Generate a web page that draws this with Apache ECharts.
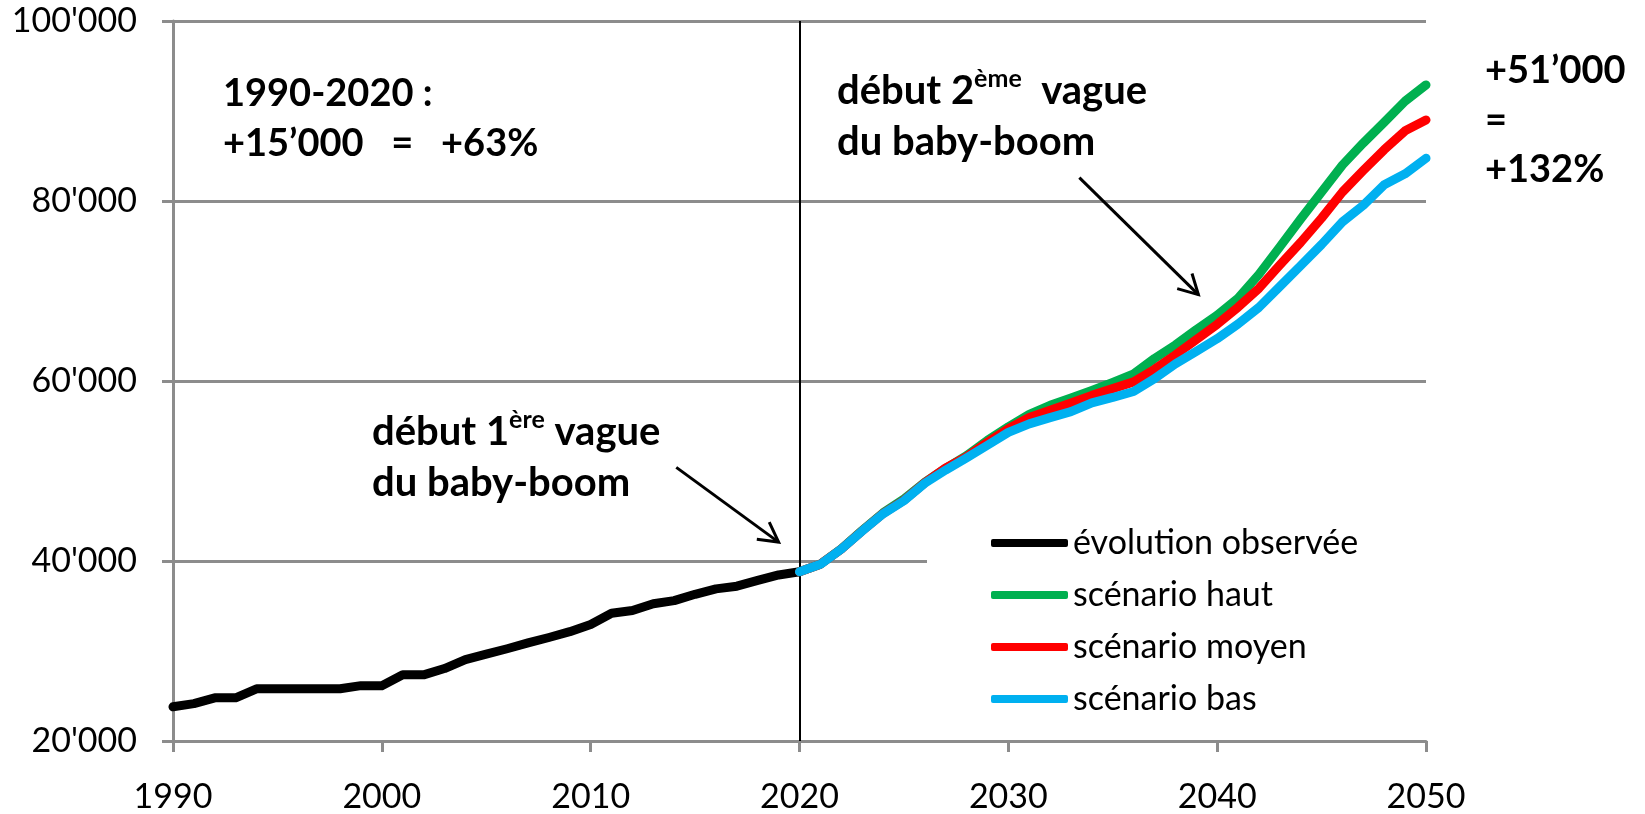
<!DOCTYPE html>
<html>
<head>
<meta charset="utf-8">
<script src="https://cdn.jsdelivr.net/npm/echarts@6/dist/echarts.min.js"></script>
<style>
  html, body { margin: 0; padding: 0; background: #fff; }
  #chart { width: 1645px; height: 814px; }
</style>
</head>
<body>
<div id="chart"></div>
<script>
// observed 1990-2020
const obsYears = [1990, 1991, 1992, 1993, 1994, 1995, 1996, 1997, 1998, 1999, 2000,
  2001, 2002, 2003, 2004, 2005, 2006, 2007, 2008, 2009, 2010,
  2011, 2012, 2013, 2014, 2015, 2016, 2017, 2018, 2019, 2020];
const obsValues = [23800, 24150, 24800, 24800, 25800, 25800, 25800, 25800, 25800, 26150, 26150,
  27350, 27350, 28050, 29050, 29650, 30250, 30900, 31500, 32150, 32950,
  34200, 34500, 35250, 35600, 36300, 36900, 37200, 37850, 38450, 38800];

// scenarios 2020-2050
const scenYears = [2020, 2021, 2022, 2023, 2024, 2025, 2026, 2027, 2028, 2029, 2030,
  2031, 2032, 2033, 2034, 2035, 2036, 2037, 2038, 2039, 2040,
  2041, 2042, 2043, 2044, 2045, 2046, 2047, 2048, 2049, 2050];
const haut = [38800, 39650, 41350, 43400, 45350, 46900, 48750, 50300, 51700, 53400, 54900,
  56300, 57300, 58100, 58950, 59850, 60800, 62500, 64000, 65700, 67300,
  69200, 71850, 74900, 78000, 81000, 84000, 86450, 88750, 91100, 92900];
const moyen = [38800, 39650, 41330, 43350, 45280, 46750, 48700, 50350, 51600, 53200, 54700,
  55950, 56750, 57550, 58400, 59150, 59900, 61300, 62900, 64600, 66300,
  68200, 70300, 72900, 75400, 78100, 81000, 83400, 85700, 87800, 89000];
const bas = [38800, 39630, 41320, 43330, 45240, 46700, 48640, 50110, 51470, 52860, 54290,
  55240, 55930, 56590, 57580, 58170, 58830, 60260, 61900, 63300, 64700,
  66330, 68180, 70500, 72820, 75170, 77680, 79520, 81800, 83020, 84750];

const seriesNames = ['évolution observée', 'scénario haut', 'scénario moyen', 'scénario bas'];
const seriesColors = ['#000000', '#00B050', '#FF0000', '#00B0F0'];

// arrows in data coordinates [year, value]
const arrows = [
  [[2014.1, 50400], [2019.0, 42100]],
  [[2033.4, 82600], [2039.1, 69600]]
];

const FONT = 'Lato, "Open Sans", sans-serif';
const GRID_GREY = '#8c8c8c';

function pairs(xs, ys) {
  return xs.map((x, i) => [x, ys[i]]);
}

const chart = echarts.init(document.getElementById('chart'));

function lineSeries(i, data) {
  return {
    name: seriesNames[i],
    type: 'line',
    data: data,
    symbol: 'none',
    itemStyle: { color: seriesColors[i] },
    lineStyle: { color: seriesColors[i], width: 9, cap: 'round', join: 'round' },
    z: 2 + i
  };
}

const obsSeries = lineSeries(0, pairs(obsYears, obsValues));
obsSeries.markLine = {
  silent: true,
  symbol: ['none', 'none'],
  label: { show: false },
  lineStyle: { color: '#000', width: 2, type: 'solid' },
  data: [{ xAxis: 2020 }]
};

chart.setOption({
  animation: false,
  backgroundColor: '#fff',
  grid: { left: 173, right: 219, top: 21, bottom: 71 },
  legend: {
    orient: 'vertical',
    left: 927,
    top: 515,
    padding: [8, 90, 8, 64],
    backgroundColor: '#fff',
    itemGap: 12,
    itemWidth: 77,
    itemHeight: 8,
    icon: 'roundRect',
    textStyle: { fontFamily: FONT, fontSize: 34, color: '#000', lineHeight: 40 },
    data: seriesNames
  },
  xAxis: {
    type: 'value',
    min: 1990,
    max: 2050,
    interval: 10,
    axisLine: { lineStyle: { color: GRID_GREY, width: 3 } },
    axisTick: { show: true, length: 11, lineStyle: { color: GRID_GREY, width: 3 } },
    splitLine: { show: false },
    axisLabel: { fontFamily: FONT, fontSize: 34, color: '#000', margin: 39, formatter: v => String(v) }
  },
  yAxis: {
    type: 'value',
    min: 20000,
    max: 100000,
    interval: 20000,
    axisLine: { show: true, lineStyle: { color: GRID_GREY, width: 3 } },
    axisTick: { show: true, length: 11, lineStyle: { color: GRID_GREY, width: 3 } },
    splitLine: { show: true, lineStyle: { color: GRID_GREY, width: 3 } },
    axisLabel: {
      fontFamily: FONT, fontSize: 34, color: '#000', margin: 36,
      formatter: v => String(v).replace(/(\d)(?=(\d{3})+$)/g, "$1'")
    }
  },
  series: [
    obsSeries,
    lineSeries(1, pairs(scenYears, haut)),
    lineSeries(2, pairs(scenYears, moyen)),
    lineSeries(3, pairs(scenYears, bas))
  ]
});

// annotations
const blue = '#0070C0';
function txt(text, x, y) {
  return {
    type: 'text', z: 100,
    style: { text: text, x: x, y: y, verticalAlign: 'middle', align: 'left',
      font: 'bold 38px ' + FONT, fill: '#000' }
  };
}
function waveText(num, sup, x, y) {
  return {
    type: 'text', z: 100,
    style: {
      x: x, y: y, verticalAlign: 'middle', align: 'left',
      text: '{a|début ' + num + '}{s|' + sup + '}{a|' + (num === '2' ? '  vague' : ' vague') + '}\n{a|du baby-boom}',
      rich: {
        a: { fontFamily: FONT, fontSize: 40, fontWeight: 'bold', color: blue, lineHeight: 51 },
        s: { fontFamily: FONT, fontSize: 25, fontWeight: 'bold', color: blue, lineHeight: 51, verticalAlign: 'top', padding: [0, 0, 12, 0] }
      }
    }
  };
}

const graphics = [
  txt('1990-2020 :', 223, 94),
  txt('+15’000   =   +63%', 223, 144),
  txt('+51’000', 1485, 71),
  txt('=', 1485, 121),
  txt('+132%', 1485, 170),
  waveText('1', 'ère', 372, 458),
  waveText('2', 'ème', 837, 117)
];

arrows.forEach(a => {
  const p0 = chart.convertToPixel({ gridIndex: 0 }, a[0]);
  const p1 = chart.convertToPixel({ gridIndex: 0 }, a[1]);
  const ang = Math.atan2(p1[1] - p0[1], p1[0] - p0[0]);
  const hl = 22, spread = 0.5;
  const h1 = [p1[0] - hl * Math.cos(ang - spread), p1[1] - hl * Math.sin(ang - spread)];
  const h2 = [p1[0] - hl * Math.cos(ang + spread), p1[1] - hl * Math.sin(ang + spread)];
  graphics.push({ type: 'polyline', z: 100, shape: { points: [p0, p1] },
    style: { stroke: '#000', lineWidth: 3, fill: null } });
  graphics.push({ type: 'polyline', z: 100, shape: { points: [h1, p1, h2] },
    style: { stroke: '#000', lineWidth: 3, fill: null, lineJoin: 'miter' } });
});

chart.setOption({ graphic: graphics });
</script>
</body>
</html>
